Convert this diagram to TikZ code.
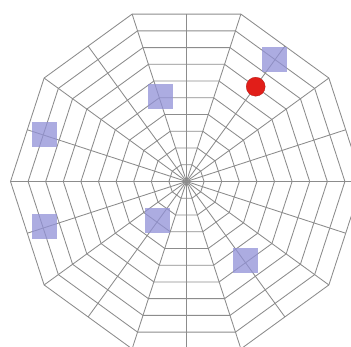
\documentclass[tikz,border=0pt]{standalone}
\definecolor{webgray}{RGB}{140,140,140}
\definecolor{sqblue}{RGB}{145,145,215}
\definecolor{dotred}{RGB}{225,30,25}
\begin{document}
\begin{tikzpicture}[x=1pt,y=1pt,
  web/.style={draw=webgray, line width=0.85pt},
  marker/.style={rectangle, minimum size=25pt, inner sep=0pt, fill=sqblue, fill opacity=0.75, draw=none},
  reddot/.style={circle, minimum size=19pt, inner sep=0pt, fill=dotred, draw=dotred!80!black, line width=0.3pt}]
\useasboundingbox (0,0) rectangle (351,347);
\fill[white] (0,0) rectangle (351,347);
\clip (0,0) rectangle (351,347);
\coordinate (c) at (186.5,165.5);
\begin{scope}[shift={(c)}]
  \foreach \k in {1,...,10}{
    \draw[web] (0:{\k*17.6}) \foreach \a in {36,72,...,324}{ -- (\a:{\k*17.6}) } -- cycle;
  }
  \foreach \a in {0,36,...,324}{ \draw[web] (0,0) -- (\a:176); }
  \foreach \a in {18,54,...,342}{ \draw[web] (0,0) -- (\a:167.4); }
\end{scope}
\node[marker] (s1) at (274.5,287.5) {};
\node[marker] (s2) at (160,250.5) {};
\node[marker] (s3) at (44.5,212.5) {};
\node[marker] (s4) at (44.5,120.5) {};
\node[marker] (s5) at (157.5,126.5) {};
\node[marker] (s6) at (245,86.5) {};
\node[reddot] (r1) at (255.7,260.3) {};
\end{tikzpicture}
\end{document}
